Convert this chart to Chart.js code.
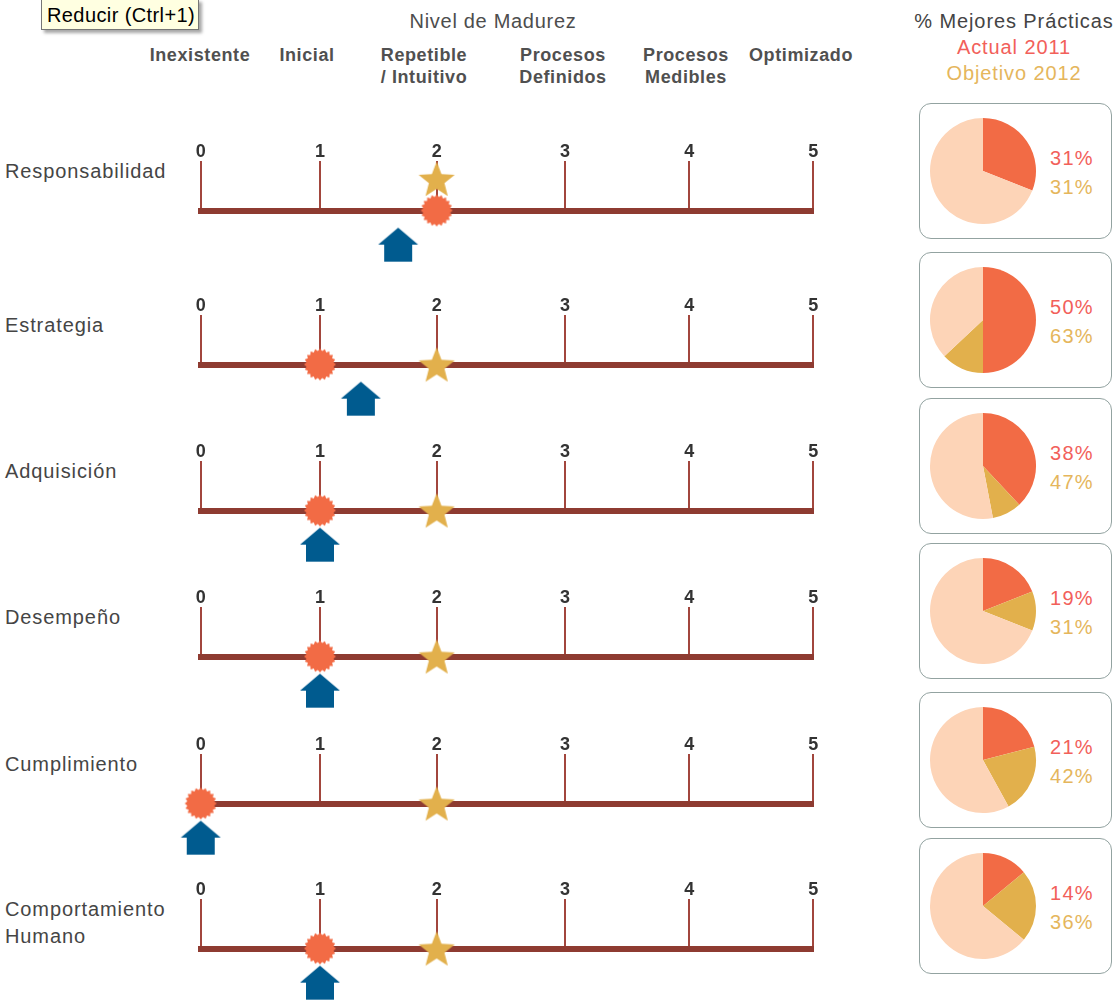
<!DOCTYPE html>
<html>
<head>
<meta charset="utf-8">
<script src="https://cdn.jsdelivr.net/npm/chart.js@4.4.0/dist/chart.umd.min.js"></script>
<style>
  body{margin:0;background:#fff;width:1118px;height:1001px;position:relative;overflow:hidden;
       font-family:"Liberation Sans",Arial,sans-serif;}
  .abs{position:absolute;}
  .tip{left:41px;top:-1px;width:158px;height:31px;box-sizing:border-box;background:#ffffe1;
       border:1px solid #767676;box-shadow:3px 3px 3px rgba(0,0,0,.35);font-size:20px;line-height:30px;
       padding-left:5px;color:#000;letter-spacing:.4px;white-space:nowrap;}
  .title{left:343px;width:300px;top:8px;text-align:center;font-size:20px;line-height:26px;color:#4d4d4d;letter-spacing:.7px;}
  .lvl{top:44px;width:140px;text-align:center;font-size:18px;font-weight:bold;line-height:22px;color:#505050;letter-spacing:.6px;}
  .pt{left:904px;width:220px;top:8px;text-align:center;font-size:20px;line-height:26px;color:#444;letter-spacing:.9px;}
  .act{color:#f2605a;}
  .obj{color:#e5b65c;}
  .rowlbl{left:5px;font-size:20px;line-height:27px;color:#454545;letter-spacing:.9px;white-space:pre;}
  .box{left:919px;width:193px;height:136px;box-sizing:border-box;border:1.5px solid #93a3a1;border-radius:12px;}
  .pct{left:1050px;font-size:20px;line-height:28px;letter-spacing:1.3px;}
</style>
</head>
<body>
<div class="abs tip">Reducir (Ctrl+1)</div>
<div class="abs title">Nivel de Madurez</div>
<div class="abs pt">% Mejores Prácticas<br><span class="act">Actual 2011</span><br><span class="obj">Objetivo 2012</span></div>
<script>
// ---- datos ----
const dimensiones = ["Responsabilidad", "Estrategia", "Adquisición", "Desempeño", "Cumplimiento", "Comportamiento\nHumano"];
const niveles = ["Inexistente", "Inicial", "Repetible\n/ Intuitivo", "Procesos\nDefinidos", "Procesos\nMedibles", "Optimizado"];
const escala = [0, 1, 2, 3, 4, 5];
const nivelActual = [2, 1, 1, 1, 0, 1];
const nivelObjetivo = [2, 2, 2, 2, 2, 2];
const tendencia = [1.67, 1.35, 1, 1, 0, 1];
const pctActual = [31, 50, 38, 19, 21, 14];
const pctObjetivo = [31, 63, 47, 31, 42, 36];

// ---- maquetacion ----
const rowLineY = [210.5, 364.5, 510, 656, 803, 948];
const boxTop = [103, 252, 398, 543, 692, 838];
const headerX = [200, 307, 424, 563, 686, 801];
const levelStops = [0, 0.1947, 0.3852, 0.5947, 0.7976, 1]; // separacion de los niveles en el dibujo
const AXIS_TOP = 67.5;
const LIFT = 0.64, ARROW_Y = -0.69;

const C_ACT = "#f26b45", C_OBJ = "#e2b04c", C_REST = "#fdd4b7", C_ARROW = "#005b8f";
const C_LINE = "#8e3b31", C_TICK = "#a2463d";

// escala con niveles no equidistantes
class LevelScale extends Chart.LinearScale {
  getPixelForValue(value) {
    const v = Math.max(0, Math.min(levelStops.length - 1, value));
    const i = Math.min(Math.floor(v), levelStops.length - 2);
    return this.getPixelForDecimal(levelStops[i] + (levelStops[i + 1] - levelStops[i]) * (v - i));
  }
}
LevelScale.id = "level";
LevelScale.defaults = Chart.LinearScale.defaults;
Chart.register(LevelScale);

function sprite(w, h, draw) {
  const c = document.createElement("canvas");
  c.width = w; c.height = h;
  draw(c.getContext("2d"), w, h);
  return c;
}

const star = sprite(38, 36, (g, w, h) => {
  const R = 19, r = 8.2, cx = w / 2, cy = h / 2 + R * (1 - Math.cos(Math.PI / 5)) / 2;
  g.beginPath();
  for (let k = 0; k < 10; k++) {
    const a = -Math.PI / 2 + k * Math.PI / 5, rad = k % 2 ? r : R;
    g.lineTo(cx + rad * Math.cos(a), cy + rad * Math.sin(a));
  }
  g.closePath(); g.fillStyle = C_OBJ; g.fill();
});

const burst = sprite(34, 34, (g, w, h) => {
  const n = 20;
  g.beginPath();
  for (let k = 0; k < n * 2; k++) {
    const a = k * Math.PI / n, rad = k % 2 ? 13.6 : 16;
    g.lineTo(w / 2 + rad * Math.cos(a), h / 2 + rad * Math.sin(a));
  }
  g.closePath(); g.fillStyle = C_ACT; g.fill();
});

const arrow = sprite(42, 36, (g) => {
  g.beginPath();
  g.moveTo(21, 1); g.lineTo(41, 18); g.lineTo(35, 18); g.lineTo(35, 35);
  g.lineTo(7, 35); g.lineTo(7, 18); g.lineTo(1, 18);
  g.closePath(); g.fillStyle = C_ARROW; g.fill();
});

function addDiv(cls, text, css) {
  const d = document.createElement("div");
  d.className = "abs " + cls;
  d.textContent = text;
  d.style.cssText = css;
  document.body.appendChild(d);
  return d;
}

// encabezados de nivel
niveles.forEach((t, i) => {
  const d = addDiv("lvl", "", `left:${headerX[i] - 70}px`);
  d.innerHTML = t.replace("\n", "<br>");
});

// filas
dimensiones.forEach((name, i) => {
  const ly = rowLineY[i];
  addDiv("rowlbl", name, `top:${ly - 52.5}px`);

  const c = document.createElement("canvas");
  c.width = 674; c.height = 131;
  c.style.cssText = `position:absolute;left:170px;top:${ly - AXIS_TOP}px`;
  document.body.appendChild(c);

  // radio grande: el punto se dibuja aunque quede fuera del area (flecha bajo la linea)
  const pt = (x, y, style) => ({
    data: [{ x, y }], pointStyle: style, pointRadius: 48, pointHoverRadius: 48, clip: false,
    xAxisID: "x", yAxisID: "y"
  });

  new Chart(c, {
    type: "scatter",
    data: {
      datasets: [
        pt(nivelObjetivo[i], nivelObjetivo[i] === nivelActual[i] ? LIFT : 0, star),
        pt(nivelActual[i], 0, burst),
        pt(tendencia[i], ARROW_Y, arrow)
      ]
    },
    options: {
      responsive: false,
      animation: false,
      events: [],
      layout: { autoPadding: false, padding: { left: 30.7, right: 30.7, top: 0, bottom: 63.5 } },
      plugins: { legend: { display: false }, tooltip: { enabled: false } },
      scales: {
        x: {
          type: "level", position: "top", min: 0, max: 5,
          afterBuildTicks: axis => { axis.ticks = escala.map(v => ({ value: v })); },
          grid: { color: C_TICK, lineWidth: 2, drawTicks: false },
          border: { display: false },
          ticks: {
            padding: 0, autoSkip: false, maxRotation: 0, color: "#333",
            font: { family: "Liberation Sans", size: 18, weight: "bold", lineHeight: 1 }
          }
        },
        base: {
          axis: "x", type: "level", position: "bottom", min: 0, max: 5,
          ticks: { display: false },
          grid: { drawOnChartArea: false, drawTicks: false },
          border: { display: true, color: C_LINE, width: 6 }
        },
        y: { min: 0, max: 1, display: false }
      }
    }
  });

  // caja con el pastel
  const bt = boxTop[i];
  addDiv("box", "", `top:${bt}px`);
  const p = document.createElement("canvas");
  p.width = 110; p.height = 110;
  p.style.cssText = `position:absolute;left:927.5px;top:${bt + 12.5}px`;
  document.body.appendChild(p);
  new Chart(p, {
    type: "pie",
    data: {
      labels: ["Actual 2011", "Objetivo 2012", "Resto"],
      datasets: [{
        data: [pctActual[i], pctObjetivo[i] - pctActual[i], 100 - pctObjetivo[i]],
        backgroundColor: [C_ACT, C_OBJ, C_REST],
        borderWidth: 0
      }]
    },
    options: {
      responsive: false, animation: false, events: [],
      layout: { padding: 2 },
      plugins: { legend: { display: false }, tooltip: { enabled: false } }
    }
  });
  addDiv("pct act", pctActual[i] + "%", `top:${bt + 41}px`);
  addDiv("pct obj", pctObjetivo[i] + "%", `top:${bt + 70}px`);
});
</script>
</body>
</html>
